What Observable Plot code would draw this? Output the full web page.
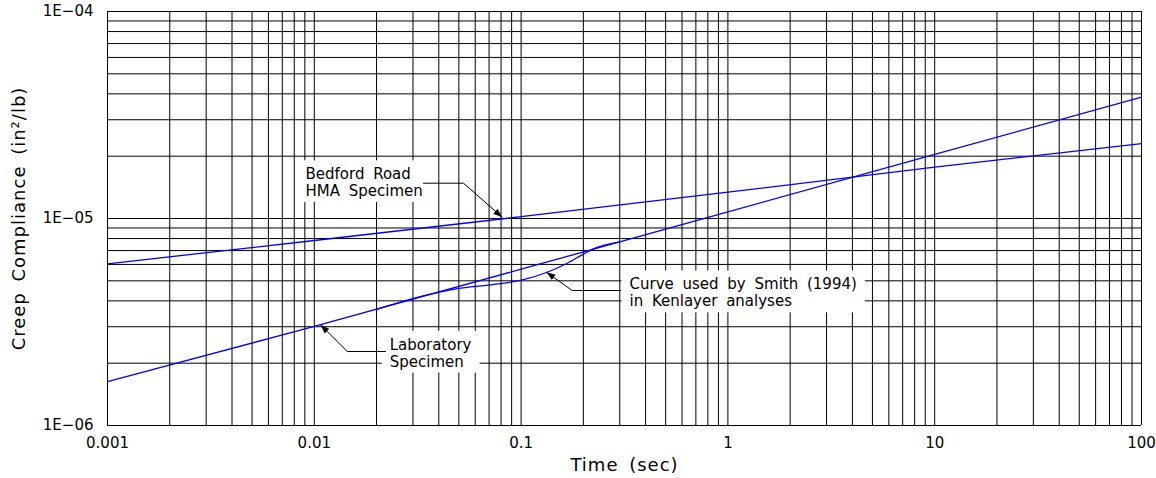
<!DOCTYPE html>
<html><head><meta charset="utf-8">
<script src="https://cdn.jsdelivr.net/npm/d3@7"></script>
<script src="https://cdn.jsdelivr.net/npm/@observablehq/plot@0.6"></script>
<style>
body{margin:0;background:#fff;}
.note text{word-spacing:4px;}
.title text{letter-spacing:1px;word-spacing:4px;}
</style></head><body><div id="chart"></div>
<script>
// ---- data ----
const xTicks = [0.001, 0.01, 0.1, 1, 10, 100];
const xTickLabels = ["0.001", "0.01", "0.1", "1", "10", "100"];
const yTicks = [1e-6, 1e-5, 1e-4];
const yTickLabels = ["1E\u221206", "1E\u221205", "1E\u221204"];
const gridMultipliers = [1, 2, 3, 4, 5, 6, 7, 8, 9];
const xDecades = [0.001, 0.01, 0.1, 1, 10];
const yDecades = [1e-6, 1e-5];

const bedfordTime = [0.001, 0.01, 0.1, 1, 10, 100];
const bedfordCompliance = [6.04e-6, 7.83e-6, 1.02e-5, 1.34e-5, 1.77e-5, 2.30e-5];

const labTime = [0.001, 0.01, 0.1, 1, 10, 100];
const labCompliance = [1.63e-6, 3.01e-6, 5.69e-6, 1.077e-5, 2.04e-5, 3.855e-5];

const smithTime = [0.02, 0.0325, 0.0491, 0.0712, 0.0993, 0.1337, 0.167, 0.201, 0.22, 0.3];
const smithCompliance = [3.64e-6, 4.19e-6, 4.58e-6, 4.78e-6, 5.02e-6, 5.50e-6, 6.08e-6, 6.75e-6, 7.08e-6, 7.71e-6];

const noteText = ["Bedford Road\nHMA Specimen", "Curve used by Smith (1994)\nin Kenlayer analyses", "Laboratory\nSpecimen"];
const noteTime = [0.009066, 0.3343, 0.02317];
const noteCompliance = [1.495e-5, 4.39e-6, 2.244e-6];

const leaderId = ["bedford", "bedford", "bedford", "smith", "smith", "smith", "lab", "lab", "lab"];
const leaderTime = [0.03373, 0.05266, 0.0810, 0.3025, 0.1766, 0.1327, 0.02210, 0.01443, 0.01072];
const leaderCompliance = [1.481e-5, 1.481e-5, 1.0146e-5, 4.489e-6, 4.489e-6, 5.503e-6, 2.278e-6, 2.278e-6, 3.065e-6];

const xTitle = "Time (sec)";
const yTitle = "Creep Compliance (in\u00b2/lb)";

// ---- tables ----
const gridX = xDecades.flatMap(d => gridMultipliers.map(m => +(d * m).toPrecision(6))).concat([100]);
const gridY = yDecades.flatMap(d => gridMultipliers.map(m => +(d * m).toPrecision(6))).concat([1e-4]);
const series = (ts, cs) => ts.map((t, i) => ({t, c: cs[i]}));
const bedford = series(bedfordTime, bedfordCompliance);
const lab = series(labTime, labCompliance);
const smith = series(smithTime, smithCompliance);
const notes = noteText.map((s, i) => ({s, t: noteTime[i], c: noteCompliance[i]}));
const leaders = leaderId.map((id, i) => ({id, t: leaderTime[i], c: leaderCompliance[i]}));

function arrowHead() {
  const m = d3.create("svg:marker")
    .attr("viewBox", "-9 -3.5 9 7")
    .attr("markerWidth", 9).attr("markerHeight", 7)
    .attr("markerUnits", "userSpaceOnUse")
    .attr("orient", "auto")
    .attr("refX", 0).attr("refY", 0)
    .attr("fill", "black").attr("stroke", "none");
  m.append("path").attr("d", "M-9,-3.2L0,0L-9,3.2Z");
  return m.node();
}

const blue = "#0000ff";
const plot = Plot.plot({
  width: 1156, height: 478,
  marginLeft: 107, marginRight: 15, marginTop: 11, marginBottom: 53,
  x: {type: "log", domain: [0.001, 100], axis: null},
  y: {type: "log", domain: [1e-6, 1e-4], axis: null},
  style: {fontFamily: "'DejaVu Sans', sans-serif", fontSize: "15px", background: "white", color: "black"},
  marks: [
    Plot.ruleX(gridX, {stroke: "black", strokeWidth: 1}),
    Plot.ruleY(gridY, {stroke: "black", strokeWidth: 1}),
    Plot.line(bedford, {x: "t", y: "c", stroke: blue, strokeWidth: 1.3, className: "curves"}),
    Plot.line(lab, {x: "t", y: "c", stroke: blue, strokeWidth: 1.3}),
    Plot.line(smith, {x: "t", y: "c", stroke: blue, strokeWidth: 1.3, curve: "monotone-x"}),
    Plot.line(leaders, {x: "t", y: "c", z: "id", stroke: "black", strokeWidth: 1, markerEnd: arrowHead}),
    Plot.text(notes, {x: "t", y: "c", text: "s", textAnchor: "start", lineAnchor: "middle", lineHeight: 1.12, fill: "black", fontSize: 15, className: "note"}),
    Plot.axisX(xTicks, {tickSize: 0, tickPadding: 12, tickFormat: d => xTickLabels[xTicks.indexOf(d)], fontSize: 15, label: null}),
    Plot.axisY(yTicks, {tickSize: 0, tickPadding: 14, tickFormat: d => yTickLabels[yTicks.indexOf(d)], fontSize: 15, label: null}),
    Plot.text([xTitle], {frameAnchor: "bottom", dy: 45, fontSize: 18, fill: "black", textAnchor: "middle", className: "title"}),
    Plot.text([yTitle], {frameAnchor: "left", dx: -88, rotate: -90, fontSize: 18, fill: "black", textAnchor: "middle", className: "title"})
  ]
});
document.getElementById("chart").append(plot);

// white boxes behind the annotation texts (break the grid like the original)
const svg = plot.tagName.toLowerCase() === "svg" ? plot : plot.querySelector("svg");
const sb = svg.getBoundingClientRect();
const curvesG = svg.querySelector("g.curves");
const boxG = document.createElementNS("http://www.w3.org/2000/svg", "g");
svg.querySelectorAll("g.note text").forEach(t => {
  const b = t.getBoundingClientRect();
  const r = document.createElementNS("http://www.w3.org/2000/svg", "rect");
  r.setAttribute("x", b.left - sb.left - 8);
  r.setAttribute("y", b.top - sb.top - 5);
  r.setAttribute("width", b.width + 16);
  r.setAttribute("height", b.height + 7);
  r.setAttribute("fill", "white");
  boxG.appendChild(r);
});
svg.insertBefore(boxG, curvesG);
</script></body></html>
